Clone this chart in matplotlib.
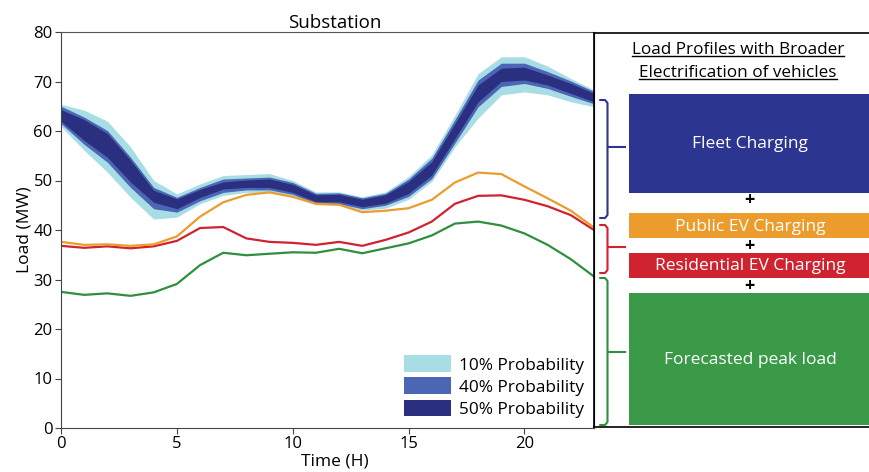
import matplotlib
matplotlib.use("Agg")
import matplotlib.pyplot as plt
from matplotlib.patches import Rectangle, Patch
from matplotlib.lines import Line2D

plt.rcParams["font.family"] = ["Open Sans", "DejaVu Sans"]

# hourly values
hours = list(range(24))

light_hi = [65.4, 64.2, 62.0, 56.8, 50.0, 47.3, 49.3, 51.0, 51.2, 51.4, 50.0, 47.7,
            47.7, 46.7, 47.7, 50.8, 55.2, 63.2, 71.6, 75.0, 75.0, 73.1, 70.6, 68.3]
light_lo = [60.9, 56.1, 51.7, 46.6, 42.2, 42.6, 45.3, 47.0, 47.6, 47.6, 46.8, 45.1,
            45.0, 44.0, 44.4, 46.2, 49.8, 56.8, 62.6, 67.3, 67.9, 67.3, 65.9, 64.9]
mid_hi = [65.0, 62.8, 60.1, 54.7, 48.6, 46.6, 48.6, 50.3, 50.5, 50.7, 49.6, 47.4,
          47.5, 46.5, 47.4, 50.3, 54.5, 62.3, 70.3, 73.7, 73.7, 72.0, 70.1, 68.0]
mid_lo = [61.5, 57.3, 53.7, 48.6, 44.3, 43.6, 45.9, 47.6, 48.1, 48.1, 47.2, 45.4,
          45.3, 44.3, 45.0, 46.8, 50.4, 57.6, 64.9, 69.0, 69.6, 68.6, 67.0, 65.5]
dark_hi = [64.3, 62.3, 59.5, 54.1, 48.0, 46.3, 48.2, 49.7, 50.1, 50.3, 49.2, 47.1,
           47.2, 46.2, 47.1, 49.8, 53.8, 61.5, 69.3, 72.7, 72.9, 71.3, 69.6, 67.6]
dark_lo = [62.0, 58.1, 54.7, 49.7, 45.6, 44.3, 46.6, 48.3, 48.6, 48.6, 47.6, 45.7,
           45.7, 44.7, 45.4, 47.4, 51.1, 58.5, 65.9, 70.0, 70.3, 69.3, 67.6, 65.9]

public_ev = [37.6, 37.0, 37.1, 36.8, 37.1, 38.7, 42.7, 45.6, 47.1, 47.6, 46.7, 45.3,
             45.1, 43.6, 43.9, 44.4, 46.1, 49.6, 51.6, 51.3, 48.8, 46.4, 43.9, 40.5]
residential_ev = [36.8, 36.4, 36.7, 36.3, 36.7, 37.8, 40.4, 40.6, 38.3, 37.6, 37.4, 37.0,
                  37.6, 36.8, 38.0, 39.5, 41.7, 45.3, 46.9, 47.0, 46.1, 44.8, 43.0, 40.0]
forecast_peak = [27.5, 26.9, 27.2, 26.7, 27.4, 29.1, 32.9, 35.4, 34.9, 35.2, 35.5, 35.4,
                 36.2, 35.3, 36.3, 37.3, 38.9, 41.3, 41.7, 40.9, 39.3, 37.0, 34.1, 30.6]

band_labels = ["10% Probability", "40% Probability", "50% Probability"]
box_labels = ["Fleet Charging", "Public EV Charging", "Residential EV Charging",
              "Forecasted peak load"]

C_LIGHT = "#a9dde5"
C_MID = "#4a66b5"
C_DARK = "#2a2f80"
C_FLEET = "#2c3590"
C_ORANGE = "#eb9c2c"
C_RED = "#cf2330"
C_GREEN = "#2f8f3e"
C_GREEN_BOX = "#3a9a48"

W, H = 869, 472
fig = plt.figure(figsize=(W / 100, H / 100), dpi=100)


def fr(x0, y0, x1, y1):
    # pixel box (top-left origin) -> figure fraction rect
    return [x0 / W, 1 - y1 / H, (x1 - x0) / W, (y1 - y0) / H]


ax = fig.add_axes(fr(61, 32, 594, 428))

ax.fill_between(hours, light_lo, light_hi, color=C_LIGHT, lw=0)
ax.fill_between(hours, mid_lo, mid_hi, color=C_MID, lw=0)
ax.fill_between(hours, dark_lo, dark_hi, color=C_DARK, lw=0)

ax.plot(hours, forecast_peak, color=C_GREEN, lw=1.6)
ax.plot(hours, residential_ev, color=C_RED, lw=1.6)
ax.plot(hours, public_ev, color=C_ORANGE, lw=1.6)

ax.set_xlim(0, 23)
ax.set_ylim(0, 80)
ax.set_xticks([0, 5, 10, 15, 20])
ax.set_yticks(range(0, 81, 10))
ax.tick_params(labelsize=12, length=4, color="#444444", pad=2)
for s in ["left", "bottom"]:
    ax.spines[s].set_color("#444444")
ax.spines["top"].set_color("#555555")
ax.spines["right"].set_color("black")

ax.set_title("Substation", fontsize=13.5, pad=3, x=0.514)
ax.set_xlabel("Time (H)", fontsize=12.5)
ax.xaxis.set_label_coords(0.514, -0.064)
ax.set_ylabel("Load (MW)", fontsize=12.5, labelpad=1)

handles = [Patch(facecolor=c, edgecolor="none") for c in (C_LIGHT, C_MID, C_DARK)]
ax.legend(handles, band_labels, loc="lower right", frameon=False, fontsize=12.4,
          handlelength=2.73, handleheight=1.1, handletextpad=0.47, labelspacing=0.23,
          borderaxespad=0.2)

# right-hand schematic, drawn in pixel units
rx = fig.add_axes(fr(594, 33, 869, 427))
rx.set_xlim(594, 869)
rx.set_ylim(427, 33)
rx.set_xticks([])
rx.set_yticks([])
rx.spines["right"].set_visible(False)
for s in ["left", "top", "bottom"]:
    rx.spines[s].set_linewidth(1.2)
rx.patch.set_alpha(0)

boxes = [(94, 193, C_FLEET), (213, 238, C_ORANGE), (253, 278, C_RED), (293, 425, C_GREEN_BOX)]
for (y0, y1, c), lab in zip(boxes, box_labels):
    rx.add_patch(Rectangle((629, y0), 260, y1 - y0, facecolor=c, edgecolor="none",
                           clip_on=False))
    rx.text(750, (y0 + y1) / 2 + 1, lab, color="white", fontsize=12.5,
            ha="center", va="center")

for yp in (200, 246, 286):
    rx.text(749, yp, "+", color="black", fontsize=13, fontweight="bold",
            ha="center", va="center")

brackets = [(100, 218, 147, C_FLEET), (225, 273, 247, C_RED), (278, 425, 352, C_GREEN)]
for y0, y1, ym, c in brackets:
    rx.plot([600, 605, 607.5, 607.5, 605, 600], [y0, y0, y0 + 3, y1 - 3, y1, y1],
            color=c, lw=1.5, solid_capstyle="round", clip_on=False)
    rx.plot([607.5, 625], [ym, ym], color=c, lw=1.5, clip_on=False)

t1 = rx.text(738, 50, "Load Profiles with Broader", fontsize=12.3, ha="center", va="center")
t2 = rx.text(738, 73, "Electrification of vehicles", fontsize=12.3, ha="center", va="center")

fig.canvas.draw()
r = fig.canvas.get_renderer()
for t in (t1, t2):
    bb = t.get_window_extent(renderer=r)
    yline = bb.y0 + 2
    fig.add_artist(Line2D([bb.x0 / W, bb.x1 / W], [yline / H, yline / H],
                          color="black", lw=1.0))

fig.savefig("out.png", dpi=100)
